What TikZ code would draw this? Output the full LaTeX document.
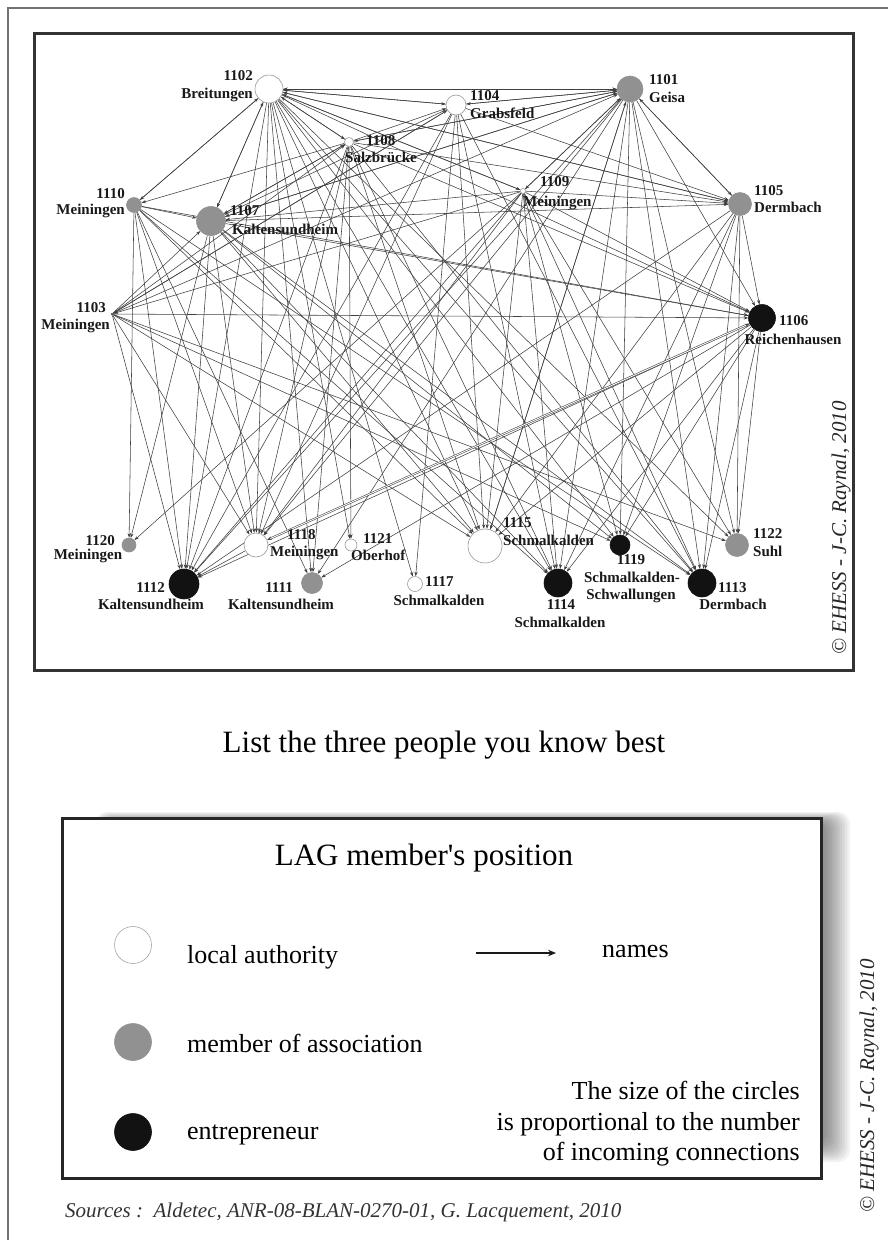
\documentclass[tikz,border=0pt]{standalone}
\usepackage{fontspec}
\setmainfont{Liberation Serif}
\usetikzlibrary{arrows.meta}
\pgfdeclarelayer{back}
\pgfdeclarelayer{bg}
\pgfsetlayers{back,bg,main}
\definecolor{mgray}{RGB}{145,145,145}
\definecolor{dblack}{RGB}{18,18,18}
\begin{document}
\begin{tikzpicture}[x=1pt,y=-1pt,
  lab/.style={font=\fontsize{15}{16}\selectfont\bfseries, inner sep=0pt, text=black!90},
  vx/.style={circle, inner sep=0pt, line width=0.6pt, minimum size=#1},
  wv/.style={vx=#1, draw=black!40, fill=white},
  gv/.style={vx=#1, draw=mgray, fill=mgray},
  bv/.style={vx=#1, draw=dblack, fill=dblack},
  edge/.style={draw=black!75, line width=0.55pt, -{Stealth[length=4.5pt,width=3.2pt]}},
  dedge/.style={draw=black!75, line width=0.55pt, double=white, double distance=0.9pt, {Stealth[length=4.5pt,width=3.5pt]}-{Stealth[length=4.5pt,width=3.5pt]}},
  big/.style={font=\fontsize{26}{30}\selectfont, inner sep=0pt},
  huge/.style={font=\fontsize{31}{36}\selectfont, inner sep=0pt},
  copy/.style={font=\fontsize{21}{24}\selectfont\itshape, inner sep=0pt, rotate=90, anchor=base west, text=black!85},
]
\useasboundingbox (0,0) rectangle (888,1240);
\begin{pgfonlayer}{back}
\fill[white] (0,0) rectangle (888,1240);
\end{pgfonlayer}
% outer frame
\draw[black!55, line width=1.5pt] (888,8) -- (8,8) -- (8,1240);
% inner frame
\draw[black!80, line width=3pt] (34,33) rectangle (853,670);

% vertices
\node[gv=26pt] (n1101) at (630,89) {};
\node[wv=28pt] (n1102) at (269,89) {};
\node[vx=2.5pt, fill=black!75] (n1103) at (112,314) {};
\node[wv=20pt] (n1104) at (456,105) {};
\node[gv=23pt] (n1105) at (740,204) {};
\node[bv=27pt] (n1106) at (762,318) {};
\node[gv=29pt] (n1107) at (211,221) {};
\node[wv=9pt] (n1108) at (349,142) {};
\node[wv=5pt] (n1109) at (523,191) {};
\node[gv=15pt] (n1110) at (134,205) {};
\node[gv=21pt] (n1111) at (312,583) {};
\node[bv=30pt] (n1112) at (184,584) {};
\node[bv=28pt] (n1113) at (702,583) {};
\node[bv=28pt] (n1114) at (558,583) {};
\node[wv=34pt] (n1115) at (485,546) {};
\node[wv=15pt] (n1117) at (415,584) {};
\node[wv=24pt] (n1118) at (256,545) {};
\node[bv=20pt] (n1119) at (620,545) {};
\node[gv=14pt] (n1120) at (129,545) {};
\node[wv=12pt] (n1121) at (351,545) {};
\node[gv=23pt] (n1122) at (737,545) {};

% edges
\begin{pgfonlayer}{bg}
\foreach \s/\t in {1102/1110,1102/1107,1102/1104,1102/1101,1102/1105,1102/1106,1102/1109,1102/1108,1102/1112,1102/1118,1102/1111,1102/1121,1102/1117,1102/1115,1102/1114,1102/1119,1102/1113,1102/1122,
1101/1102,1101/1104,1101/1108,1101/1107,1101/1109,1101/1105,1101/1106,1101/1112,1101/1118,1101/1111,1101/1115,1101/1114,1101/1119,1101/1113,1101/1122,
1109/1101,1109/1102,1109/1105,1109/1106,1109/1107,1109/1103,1109/1112,1109/1118,1109/1115,1109/1114,1109/1119,1109/1113,1109/1122,1109/1120,
1108/1102,1108/1101,1108/1104,1108/1107,1108/1110,1108/1105,1108/1106,1108/1112,1108/1118,1108/1111,1108/1121,1108/1115,1108/1114,1108/1113,
1104/1102,1104/1101,1104/1107,1104/1103,1104/1105,1104/1112,1104/1118,1104/1117,1104/1115,1104/1114,1104/1113,
1103/1107,1103/1108,1103/1104,1103/1101,1103/1106,1103/1112,1103/1118,1103/1115,1103/1119,1103/1122,
1110/1102,1110/1107,1110/1112,1110/1118,1110/1111,1110/1115,1110/1106,1110/1120,1110/1113,1110/1114,
1107/1102,1107/1101,1107/1108,1107/1105,1107/1106,1107/1112,1107/1118,1107/1115,1107/1114,1107/1113,1107/1120,1107/1119,
1105/1101,1105/1102,1105/1106,1105/1113,1105/1122,1105/1114,1105/1119,1105/1115,1105/1112,
1106/1112,1106/1111,1106/1115,1106/1113,1106/1122,1106/1119,1106/1114,
1118/1112,1115/1101}{\draw[edge] (n\s) -- (n\t);}
\draw[dedge] (n1106) -- (n1118);
\end{pgfonlayer}

% labels
\node[lab, anchor=mid west] (l1101a) at (649,82) {1101};
\node[lab, anchor=mid west] (l1101b) at (649,100) {Geisa};
\node[lab, anchor=mid east] (l1102a) at (253,78) {1102};
\node[lab, anchor=mid east] (l1102b) at (253,96) {Breitungen};
\node[lab, anchor=mid east] (l1103a) at (106,310) {1103};
\node[lab, anchor=mid east] (l1103b) at (110,327) {Meiningen};
\node[lab, anchor=mid west] (l1104a) at (470,98) {1104};
\node[lab, anchor=mid west] (l1104b) at (470,116) {Grabsfeld};
\node[lab, anchor=mid west] (l1105a) at (754,193) {1105};
\node[lab, anchor=mid west] (l1105b) at (754,210) {Dermbach};
\node[lab, anchor=mid west] (l1106a) at (779,323) {1106};
\node[lab, anchor=mid] (l1106b) at (793,342) {Reichenhausen};
\node[lab, anchor=mid west] (l1107a) at (230,213) {1107};
\node[lab, anchor=mid west] (l1107b) at (232,232) {Kaltensundheim};
\node[lab, anchor=mid west] (l1108a) at (366,143) {1108};
\node[lab, anchor=mid west] (l1108b) at (345,160) {Salzbrücke};
\node[lab, anchor=mid west] (l1109a) at (540,184) {1109};
\node[lab, anchor=mid west] (l1109b) at (523,204) {Meiningen};
\node[lab, anchor=mid east] (l1110a) at (125,196) {1110};
\node[lab, anchor=mid east] (l1110b) at (125,212) {Meiningen};
\node[lab, anchor=mid east] (l1111a) at (293,590) {1111};
\node[lab, anchor=mid] (l1111b) at (281,607) {Kaltensundheim};
\node[lab, anchor=mid east] (l1112a) at (165,590) {1112};
\node[lab, anchor=mid] (l1112b) at (151,607) {Kaltensundheim};
\node[lab, anchor=mid west] (l1113a) at (718,590) {1113};
\node[lab, anchor=mid] (l1113b) at (733,607) {Dermbach};
\node[lab, anchor=mid] (l1114a) at (561,607) {1114};
\node[lab, anchor=mid] (l1114b) at (560,625) {Schmalkalden};
\node[lab, anchor=mid west] (l1115a) at (503,525) {1115};
\node[lab, anchor=mid west] (l1115b) at (503,543) {Schmalkalden};
\node[lab, anchor=mid west] (l1117a) at (425,584) {1117};
\node[lab, anchor=mid] (l1117b) at (439,603) {Schmalkalden};
\node[lab, anchor=mid west] (l1118a) at (287,537) {1118};
\node[lab, anchor=mid west] (l1118b) at (270,554) {Meiningen};
\node[lab, anchor=mid] (l1119a) at (631,562) {1119};
\node[lab, anchor=mid] (l1119b) at (632,580) {Schmalkalden-};
\node[lab, anchor=mid] (l1119c) at (631,597) {Schwallungen};
\node[lab, anchor=mid east] (l1120a) at (115,543) {1120};
\node[lab, anchor=mid] (l1120b) at (88,557) {Meiningen};
\node[lab, anchor=mid west] (l1121a) at (363,541) {1121};
\node[lab, anchor=mid west] (l1121b) at (351,558) {Oberhof};
\node[lab, anchor=mid west] (l1122a) at (753,536) {1122};
\node[lab, anchor=mid west] (l1122b) at (753,554) {Suhl};

% copyright inside frame
\node[copy] (cr1) at (846,655) {© EHESS - J-C. Raynal, 2010};

% title
\node[huge, anchor=base] (title) at (444,752) {List the three people you know best};

% legend shadow
\foreach \i in {0,...,9}{
  \fill[black, opacity=0.05, rounded corners=12pt] ({95+\i*1.5},{812+\i*1}) rectangle ({850-\i*2.6},{1162-\i*2});
}
% legend box
\draw[black!85, line width=3pt, fill=white] (62,818) rectangle (821,1178);
\node[huge, anchor=base] (lagt) at (424,865) {LAG member{\addfontfeatures{Ligatures=TeXOff}'}s position};
\node[vx=37pt, draw=black!35, fill=white] (lw) at (133,945) {};
\node[vx=37pt, draw=mgray, fill=mgray] (lg) at (133,1042) {};
\node[vx=37pt, draw=dblack, fill=dblack] (lb) at (133,1132) {};
\node[big, anchor=base west] (tw) at (187,963) {local authority};
\node[big, anchor=base west] (tg) at (187,1052) {member of association};
\node[big, anchor=base west] (tb) at (187,1139) {entrepreneur};
\coordinate (la1) at (476,953);
\coordinate (la2) at (556,953);
\draw[black!90, line width=1.8pt, -{Stealth[length=8pt,width=6.5pt]}] (la1) -- (la2);
\node[big, anchor=base west] (tn) at (602,957) {names};
\node[big, anchor=base east] (ts1) at (800,1099) {The size of the circles};
\node[big, anchor=base east] (ts2) at (800,1130) {is proportional to the number};
\node[big, anchor=base east] (ts3) at (800,1160) {of incoming connections};

% sources and copyright
\node[font=\fontsize{21}{24}\selectfont\itshape, inner sep=0pt, anchor=base west, text=black!80] (src) at (65,1217) {Sources :\ \ Aldetec, ANR-08-BLAN-0270-01, G. Lacquement, 2010};
\node[copy] (cr2) at (874,1213) {© EHESS - J-C. Raynal, 2010};
\end{tikzpicture}
\end{document}
